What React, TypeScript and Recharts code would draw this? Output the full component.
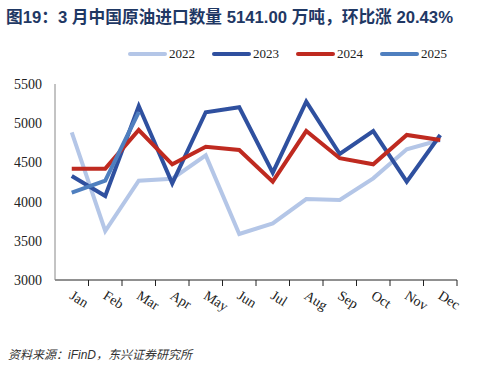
import { Line, LineChart, XAxis, YAxis } from "recharts"

const months = ["Jan", "Feb", "Mar", "Apr", "May", "Jun", "Jul", "Aug", "Sep", "Oct", "Nov", "Dec"]
const y2022 = [4884, 3625, 4267, 4292, 4590, 3587, 3723, 4033, 4020, 4297, 4667, 4786]
const y2023 = [4327, 4071, 5219, 4233, 5140, 5203, 4369, 5274, 4607, 4900, 4254, 4850]
const y2024 = [4420, 4420, 4913, 4476, 4700, 4658, 4254, 4900, 4553, 4476, 4850, 4786]
const y2025: (number | null)[] = [4114, 4268, 5141, null, null, null, null, null, null, null, null, null]
const yTicks = [3000, 3500, 4000, 4500, 5000, 5500]

const series = [
    { key: "2022", color: "#b4c6e7" },
    { key: "2023", color: "#2f509f" },
    { key: "2024", color: "#bf2a20" },
    { key: "2025", color: "#4f7fbf" },
]

const data = months.map((m, i) => ({
    month: m,
    "2022": y2022[i],
    "2023": y2023[i],
    "2024": y2024[i],
    "2025": y2025[i],
}))

const serif = "'Liberation Serif', 'DejaVu Serif', serif"
const band = 402 / 12

const MonthTick = (props: any) => {
    const { x, y, payload } = props
    return (
        <g>
            <line x1={x + band / 2} x2={x + band / 2} y1={y - 2} y2={y - 8} stroke="#222" strokeWidth={1} />
            <g transform={`translate(${x - 3},${y + 10})`}>
                <text transform="rotate(32)" textAnchor="start" style={{ fontFamily: serif, fontSize: 14 }} fill="#222">
                    {payload.value}
                </text>
            </g>
        </g>
    )
}

const ValueTick = (props: any) => {
    const { x, y, payload } = props
    return (
        <text x={x} y={y} dy={5} textAnchor="end" style={{ fontFamily: serif, fontSize: 14 }} fill="#222">
            {payload.value}
        </text>
    )
}

export default function App() {
    return (
        <div style={{ position: "absolute", left: 0, top: 0, width: 492, height: 368, background: "#fff" }}>
            <div
                style={{
                    position: "absolute",
                    left: 6,
                    top: 4,
                    fontFamily: "'Liberation Sans', 'Noto Sans CJK SC', sans-serif",
                    fontWeight: "bold",
                    fontSize: 16.7,
                    color: "#1f3864",
                    whiteSpace: "nowrap",
                }}
            >
                图19：3 月中国原油进口数量 5141.00 万吨，环比涨 20.43%
            </div>
            <div
                style={{
                    position: "absolute",
                    top: 46,
                    left: 128,
                    display: "flex",
                    fontFamily: serif,
                    fontSize: 13,
                    color: "#222",
                }}
            >
                {series.map((s) => (
                    <div key={s.key} style={{ display: "flex", alignItems: "center", marginRight: 17 }}>
                        <div style={{ width: 39, height: 4, borderRadius: 2, background: s.color, marginRight: 2 }} />
                        <span>{s.key}</span>
                    </div>
                ))}
            </div>
            <LineChart width={492} height={368} data={data} margin={{ top: 84, right: 35, bottom: 48, left: 0 }}>
                <XAxis
                    dataKey="month"
                    axisLine={{ stroke: "#222" }}
                    tickLine={false}
                    tick={<MonthTick />}
                    interval={0}
                    height={40}
                    padding={{ left: band / 2, right: band / 2 }}
                />
                <YAxis
                    width={55}
                    domain={[3000, 5500]}
                    ticks={yTicks}
                    axisLine={{ stroke: "#888" }}
                    tickLine={false}
                    tickSize={11}
                    tick={<ValueTick />}
                />
                {series.map((s) => (
                    <Line
                        key={s.key}
                        dataKey={s.key}
                        stroke={s.color}
                        strokeWidth={4}
                        dot={false}
                        type="linear"
                        isAnimationActive={false}
                        connectNulls={false}
                    />
                ))}
            </LineChart>
            <div
                style={{
                    position: "absolute",
                    left: 8,
                    top: 345,
                    fontFamily: "'Liberation Sans', 'Noto Sans CJK SC', sans-serif",
                    fontStyle: "italic",
                    fontSize: 12,
                    color: "#333",
                }}
            >
                资料来源：iFinD，东兴证券研究所
            </div>
        </div>
    )
}
